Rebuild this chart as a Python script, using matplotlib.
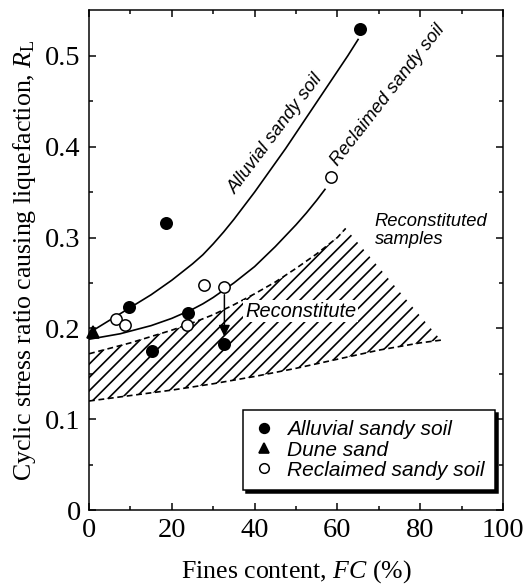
import numpy as np
import matplotlib.pyplot as plt
from matplotlib.patches import Polygon

plt.rcParams['font.family'] = ['Liberation Serif', 'DejaVu Serif']
plt.rcParams['mathtext.fontset'] = 'custom'
plt.rcParams['mathtext.rm'] = 'Liberation Serif'
plt.rcParams['mathtext.it'] = 'Liberation Serif:italic'
plt.rcParams['hatch.linewidth'] = 1.0

# measured points
alluvial_fc = [65.5, 18.7, 9.7, 24.0, 15.1, 32.6]
alluvial_rl = [0.530, 0.316, 0.223, 0.217, 0.175, 0.183]
dune_fc = [1.0]
dune_rl = [0.196]
reclaimed_fc = [58.4, 27.8, 32.7, 6.5, 8.7, 23.6]
reclaimed_rl = [0.367, 0.248, 0.246, 0.210, 0.204, 0.204]

# trend curves
alluvial_curve_fc = [0, 2.5, 5, 7.5, 10, 12.5, 15, 17.5, 20, 22.5, 25, 27.5, 30,
                     32.5, 35, 37.5, 40, 42.5, 45, 47.5, 50, 52.5, 55, 57.5,
                     60, 62.5, 65]
alluvial_curve_rl = [0.195, 0.202, 0.209, 0.216, 0.223, 0.230, 0.237, 0.245,
                     0.253, 0.262, 0.271, 0.281, 0.293, 0.306, 0.320, 0.335,
                     0.350, 0.366, 0.382, 0.398, 0.415, 0.432, 0.449, 0.466,
                     0.483, 0.500, 0.518]
reclaimed_curve_fc = [0, 2.5, 5, 7.5, 10, 12.5, 15, 17.5, 20, 22.5, 25, 27.5,
                      30, 32.5, 35, 37.5, 40, 42.5, 45, 47.5, 50, 52.5, 55, 57]
reclaimed_curve_rl = [0.188, 0.190, 0.192, 0.194, 0.197, 0.200, 0.203, 0.207,
                      0.211, 0.216, 0.221, 0.227, 0.234, 0.242, 0.250, 0.259,
                      0.268, 0.279, 0.290, 0.302, 0.314, 0.327, 0.341, 0.353]

# band of reconstituted samples
band_upper_fc = [0, 5, 10, 15, 20, 25, 30, 35, 40, 45, 50, 55, 60, 62]
band_upper_rl = [0.172, 0.178, 0.184, 0.191, 0.198, 0.206, 0.215, 0.226,
                 0.238, 0.251, 0.266, 0.282, 0.300, 0.310]
band_lower_fc = [0, 10, 20, 30, 40, 50, 60, 70, 80, 85]
band_lower_rl = [0.120, 0.126, 0.132, 0.139, 0.147, 0.156, 0.166, 0.176,
                 0.184, 0.187]

fig = plt.figure(figsize=(530 / 120, 584 / 120), dpi=120)
ax = fig.add_axes([0.168, 0.1267, 0.781, 0.857])

verts = list(zip(band_upper_fc, band_upper_rl)) + \
    list(zip(band_lower_fc[::-1], band_lower_rl[::-1]))
band = Polygon(verts, closed=True, facecolor='none', edgecolor='k',
               linewidth=0, hatch='///', zorder=1)
ax.add_patch(band)
dash = (0, (3.5, 2.2))
ax.plot(band_upper_fc, band_upper_rl, color='k', lw=1.0, ls=dash, zorder=2)
ax.plot(band_lower_fc, band_lower_rl, color='k', lw=1.0, ls=dash, zorder=2)

ax.plot(alluvial_curve_fc, alluvial_curve_rl, color='k', lw=1.0, zorder=2)
ax.plot(reclaimed_curve_fc, reclaimed_curve_rl, color='k', lw=1.0, zorder=2)

ax.plot(alluvial_fc, alluvial_rl, 'o', color='k', ms=6.8, ls='none',
        label='Alluvial sandy soil', zorder=4)
ax.plot(dune_fc, dune_rl, '^', color='k', ms=6.8, ls='none',
        label='Dune sand', zorder=4, clip_on=False)
ax.plot(reclaimed_fc, reclaimed_rl, 'o', mfc='white', mec='k', mew=0.9,
        ms=6.8, ls='none', label='Reclaimed sandy soil', zorder=4)

# arrow from the reclaimed point down to the reconstituted value
ax.annotate('', xy=(32.7, 0.191), xytext=(32.7, 0.237),
            arrowprops=dict(arrowstyle='-|>', color='k', lw=0.9,
                            mutation_scale=14, shrinkA=0, shrinkB=0), zorder=3)

sans = ['Liberation Sans', 'DejaVu Sans']
ax.text(35.5, 0.347, 'Alluvial sandy soil', family=sans, style='italic',
        fontsize=11, rotation=53, rotation_mode='anchor', ha='left', va='baseline')
ax.text(60.2, 0.378, 'Reclaimed sandy soil', family=sans, style='italic',
        fontsize=11, rotation=52, rotation_mode='anchor', ha='left', va='baseline')
ax.text(37.7, 0.213, 'Reconstitute', family=sans, style='italic', fontsize=12,
        ha='left', va='baseline', zorder=3,
        bbox=dict(facecolor='white', edgecolor='none', pad=1))
ax.text(69, 0.327, 'Reconstituted\nsamples', family=sans, style='italic',
        fontsize=11, ha='left', va='top', linespacing=1.05)

ax.set_xlim(0, 100)
ax.set_ylim(0, 0.551)
ax.set_xticks([0, 20, 40, 60, 80, 100])
ax.set_xticks([10, 30, 50, 70, 90], minor=True)
ax.set_yticks([0, 0.1, 0.2, 0.3, 0.4, 0.5])
ax.set_yticklabels(['0', '0.1', '0.2', '0.3', '0.4', '0.5'])
ax.set_yticks([0.05, 0.15, 0.25, 0.35, 0.45], minor=True)
ax.tick_params(which='both', direction='in', top=True, right=True,
               labelsize=17, width=0.9)
ax.tick_params(which='major', length=4.2, pad=5)
ax.tick_params(which='minor', length=2.6)
for s in ax.spines.values():
    s.set_linewidth(0.9)

ax.set_xlabel('Fines content, $FC$ $\\mathit{(\\%)}$', fontsize=15.5, labelpad=9)
ax.set_ylabel('Cyclic stress ratio causing liquefaction, $R_\\mathrm{L}$',
              fontsize=15.5, labelpad=4)

leg = ax.legend(loc='lower right', bbox_to_anchor=(0.98, 0.04), borderaxespad=0,
                prop={'family': 'Liberation Sans', 'style': 'italic', 'size': 12.5},
                frameon=True, fancybox=False, edgecolor='k', framealpha=1,
                shadow={'color': 'k', 'alpha': 1}, handlelength=1.0,
                handletextpad=0.6, labelspacing=0.05, borderpad=0.5, markerscale=0.85)
leg.get_frame().set_linewidth(0.9)

fig.savefig('out.png', dpi=120)
